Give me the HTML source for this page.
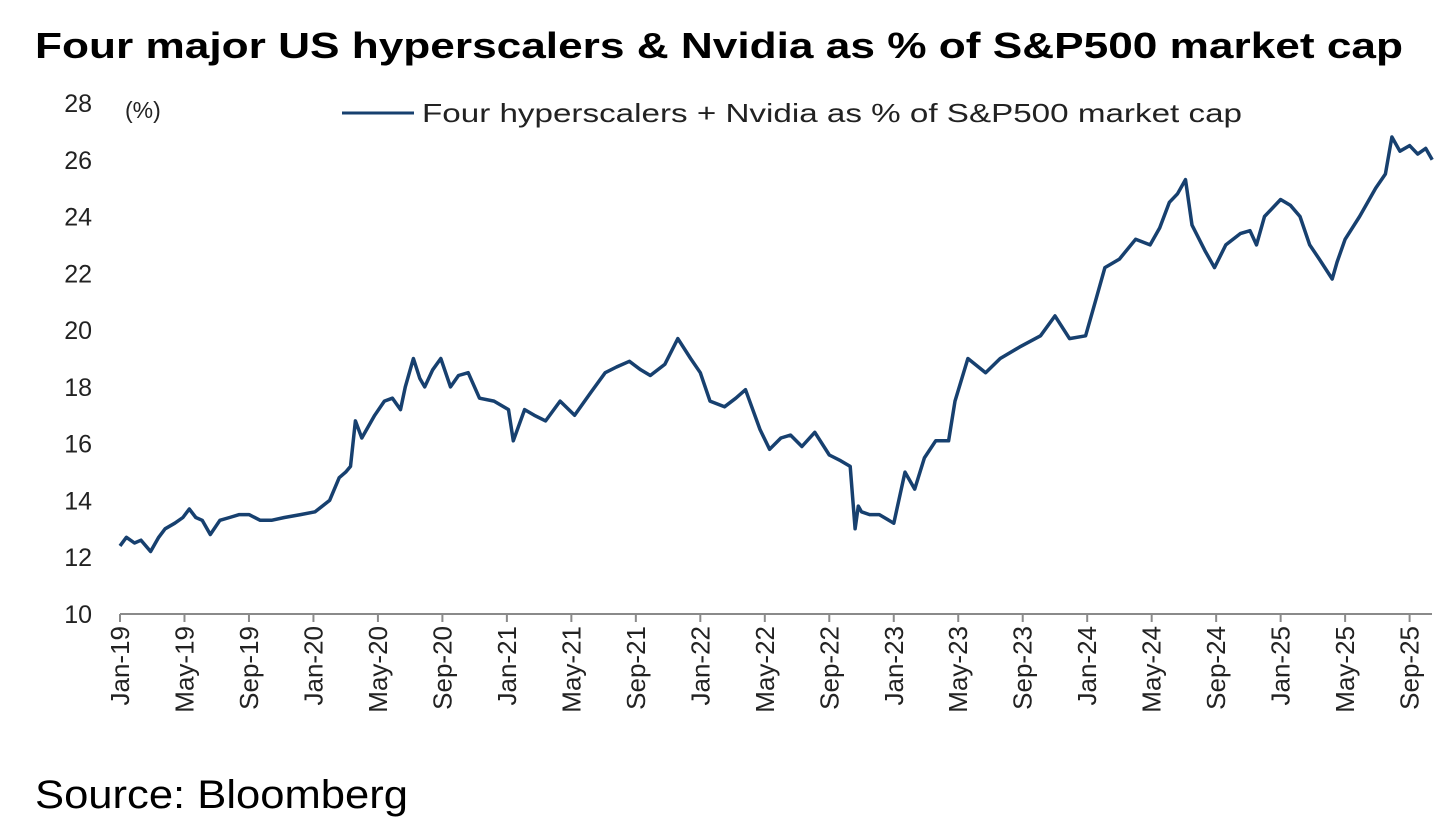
<!DOCTYPE html>
<html><head><meta charset="utf-8"><style>
body{margin:0;background:#fff;}
svg{display:block;font-family:"Liberation Sans",sans-serif;}
</style></head><body>
<svg id="chart" width="1456" height="823" viewBox="0 0 1456 823" xmlns="http://www.w3.org/2000/svg">
<text x="35" y="58" font-size="36" font-weight="bold" fill="#000" textLength="1368" lengthAdjust="spacingAndGlyphs">Four major US hyperscalers &amp; Nvidia as % of S&amp;P500 market cap</text>
<text x="125" y="118" font-size="23" fill="#222">(%)</text>
<g>
<line x1="342" y1="113" x2="414" y2="113" stroke="#17406f" stroke-width="3"/>
<text x="422" y="122" font-size="26" fill="#222" textLength="820" lengthAdjust="spacingAndGlyphs">Four hyperscalers + Nvidia as % of S&amp;P500 market cap</text>
</g>
<g id="yaxis"></g>
<g id="xaxis"></g>
<path id="series" fill="none" stroke="#17406f" stroke-width="3.5" stroke-linejoin="round"/>
<text x="35" y="808" font-size="40" fill="#000" textLength="373" lengthAdjust="spacingAndGlyphs">Source: Bloomberg</text>
</svg>
<script>
const months=[0,0.4,0.9,1.3,1.9,2.4,2.8,3.4,3.9,4.3,4.7,5.1,5.6,6.2,6.8,7.4,8.0,8.7,9.4,10.2,11.2,12.1,13.0,13.6,14.0,14.3,14.6,15.0,15.8,16.4,16.9,17.4,17.7,18.2,18.6,18.9,19.4,19.9,20.5,21.0,21.6,22.3,23.2,24.1,24.4,25.1,25.7,26.4,27.3,28.2,29.2,30.1,30.8,31.6,32.3,32.9,33.8,34.6,35.4,36.0,36.6,37.5,38.2,38.8,39.7,40.3,41.0,41.6,42.3,43.1,44.0,44.7,45.3,45.6,45.8,46.0,46.5,47.1,48.0,48.7,49.3,49.9,50.6,51.4,51.8,52.6,53.7,54.6,55.8,57.1,58.0,58.9,59.9,60.5,61.1,62.0,63.0,63.9,64.5,65.1,65.6,66.1,66.5,67.3,67.9,68.6,69.5,70.1,70.5,71.0,72.0,72.6,73.2,73.8,74.4,75.2,75.5,76.0,76.9,77.9,78.5,78.9,79.4,80.0,80.5,81.0,81.4];
const values=[12.4,12.7,12.5,12.6,12.2,12.7,13.0,13.2,13.4,13.7,13.4,13.3,12.8,13.3,13.4,13.5,13.5,13.3,13.3,13.4,13.5,13.6,14.0,14.8,15.0,15.2,16.8,16.2,17.0,17.5,17.6,17.2,18.0,19.0,18.3,18.0,18.6,19.0,18.0,18.4,18.5,17.6,17.5,17.2,16.1,17.2,17.0,16.8,17.5,17.0,17.8,18.5,18.7,18.9,18.6,18.4,18.8,19.7,19.0,18.5,17.5,17.3,17.6,17.9,16.5,15.8,16.2,16.3,15.9,16.4,15.6,15.4,15.2,13.0,13.8,13.6,13.5,13.5,13.2,15.0,14.4,15.5,16.1,16.1,17.5,19.0,18.5,19.0,19.4,19.8,20.5,19.7,19.8,21.0,22.2,22.5,23.2,23.0,23.6,24.5,24.8,25.3,23.7,22.8,22.2,23.0,23.4,23.5,23.0,24.0,24.6,24.4,24.0,23.0,22.5,21.8,22.4,23.2,24.0,25.0,25.5,26.8,26.3,26.5,26.2,26.4,26.0];
const yTicks=[10,12,14,16,18,20,22,24,26,28];
const xTickLabels=["Jan-19","May-19","Sep-19","Jan-20","May-20","Sep-20","Jan-21","May-21","Sep-21","Jan-22","May-22","Sep-22","Jan-23","May-23","Sep-23","Jan-24","May-24","Sep-24","Jan-25","May-25","Sep-25"];
const NS="http://www.w3.org/2000/svg";
const X0=120,PXM=16.12,Y0=614,PXV=28.39;
function xs(m){return X0+m*PXM;}
function ys(v){return Y0-(v-10)*PXV;}
const ya=document.getElementById('yaxis');
yTicks.forEach(t=>{const e=document.createElementNS(NS,'text');


e.setAttribute('x',92);e.setAttribute('y',ys(t)+9);e.setAttribute('text-anchor','end');e.setAttribute('font-size','25');e.setAttribute('fill','#222');e.textContent=t;ya.appendChild(e);});
const xa=document.getElementById('xaxis');
const ax=document.createElementNS(NS,'line');


ax.setAttribute('x1',X0);ax.setAttribute('x2',1432);ax.setAttribute('y1',Y0);ax.setAttribute('y2',Y0);ax.setAttribute('stroke','#8a8a8a');ax.setAttribute('stroke-width','2');xa.appendChild(ax);
xTickLabels.forEach((l,i)=>{const x=xs(i*4);
const tk=document.createElementNS(NS,'line');


tk.setAttribute('x1',x);tk.setAttribute('x2',x);tk.setAttribute('y1',Y0);tk.setAttribute('y2',Y0+8);tk.setAttribute('stroke','#8a8a8a');tk.setAttribute('stroke-width','2');xa.appendChild(tk);
const e=document.createElementNS(NS,'text');


e.setAttribute('transform','translate('+(x+9)+','+(Y0+12)+') rotate(-90)');e.setAttribute('text-anchor','end');e.setAttribute('font-size','26');e.setAttribute('fill','#222');e.textContent=l;xa.appendChild(e);});
let d='';months.forEach((m,i)=>{d+=(i?'L':'M')+xs(m).toFixed(1)+','+ys(values[i]).toFixed(1);});
document.getElementById('series').setAttribute('d',d);
</script>
</body></html>
